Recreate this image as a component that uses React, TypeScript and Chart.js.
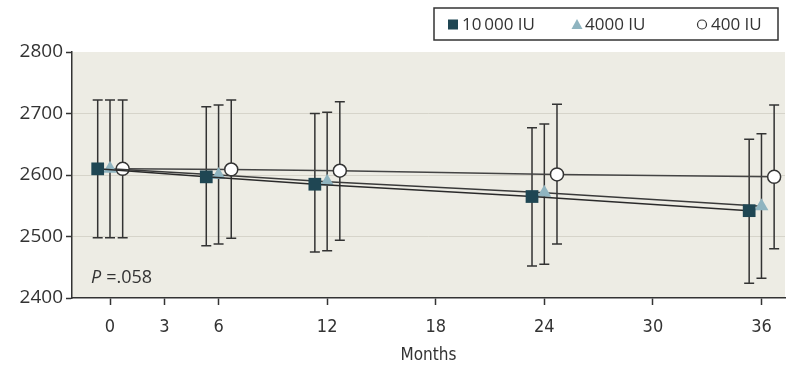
import React, { useEffect, useRef } from "react";
import { Chart, registerables } from "chart.js";

Chart.register(...registerables);

const months = [0, 6, 12, 24, 36];
const xTicks = [0, 3, 6, 12, 18, 24, 30, 36];
const seriesNames = ["10\u2009000 IU", "4000 IU", "400 IU"];

const highMean = [2610, 2597, 2585, 2565, 2542];
const highUpper = [2722, 2711, 2700, 2677, 2658];
const highLower = [2498, 2485, 2475, 2452, 2424];

const midMean = [2610, 2600, 2589, 2571, 2549];
const midUpper = [2722, 2714, 2702, 2683, 2667];
const midLower = [2498, 2488, 2477, 2455, 2432];

const lowMean = [2610, 2609, 2607, 2601, 2597];
const lowUpper = [2722, 2722, 2719, 2715, 2714];
const lowLower = [2498, 2497, 2494, 2488, 2480];

const offsets = [-0.68, 0, 0.7];
const pLabel = ".058";

const INK = "#333333";
const BG = "#edece4";
const COND = "'DejaVu Sans Condensed', 'DejaVu Sans'";

export default function App() {
  const ref = useRef<HTMLCanvasElement | null>(null);

  useEffect(() => {
    if (!ref.current) return;
    const means = [highMean, midMean, lowMean];
    const uppers = [highUpper, midUpper, lowUpper];
    const lowers = [highLower, midLower, lowLower];

    const mk = (i: number) =>
      months.map((m, j) => ({ x: m + offsets[i], y: means[i][j] }));

    const bgPlugin = {
      id: "bg",
      beforeDraw(chart: any) {
        const { ctx, chartArea: a } = chart;
        ctx.save();
        ctx.fillStyle = BG;
        ctx.fillRect(a.left, a.top, a.right - a.left, a.bottom - a.top);
        ctx.restore();
      },
    };

    const errPlugin = {
      id: "err",
      beforeDatasetsDraw(chart: any) {
        const { ctx } = chart;
        const xs = chart.scales.x;
        const ys = chart.scales.y;
        ctx.save();
        ctx.strokeStyle = INK;
        ctx.lineWidth = 1.5;
        for (let i = 0; i < 3; i++) {
          months.forEach((m, j) => {
            const px = xs.getPixelForValue(m + offsets[i]);
            const top = ys.getPixelForValue(uppers[i][j]);
            const bot = ys.getPixelForValue(lowers[i][j]);
            ctx.beginPath();
            ctx.moveTo(px, top);
            ctx.lineTo(px, bot);
            ctx.moveTo(px - 5, top);
            ctx.lineTo(px + 5, top);
            ctx.moveTo(px - 5, bot);
            ctx.lineTo(px + 5, bot);
            ctx.stroke();
          });
        }
        ctx.restore();
      },
    };

    const annoPlugin = {
      id: "anno",
      afterDraw(chart: any) {
        const { ctx, chartArea: a } = chart;
        ctx.save();
        // P value
        ctx.fillStyle = INK;
        ctx.textBaseline = "middle";
        ctx.font = "italic 18px 'Open Sans'";
        const px = a.left + 19;
        const py = 278;
        ctx.fillText("P", px, py);
        const pw = ctx.measureText("P").width + 5;
        ctx.font = "18px 'Open Sans'";
        ctx.fillText("=" + pLabel, px + pw, py);

        // legend box
        const lx = 434, ly = 8, lw = 344, lh = 32;
        ctx.fillStyle = "#ffffff";
        ctx.fillRect(lx, ly, lw, lh);
        ctx.strokeStyle = INK;
        ctx.lineWidth = 1.5;
        ctx.strokeRect(lx, ly, lw, lh);
        const cy = ly + lh / 2;
        ctx.font = "17px 'Open Sans'";
        ctx.textBaseline = "middle";
        ctx.fillStyle = INK;
        // square
        ctx.fillStyle = "#1f4653";
        ctx.fillRect(448, cy - 4.5, 10, 10);
        ctx.fillStyle = INK;
        ctx.fillText(seriesNames[0], 462, cy + 1);
        // triangle
        ctx.fillStyle = "#8fb4c0";
        ctx.beginPath();
        ctx.moveTo(577, cy - 5);
        ctx.lineTo(582.5, cy + 5);
        ctx.lineTo(571.5, cy + 5);
        ctx.closePath();
        ctx.fill();
        ctx.fillStyle = INK;
        ctx.fillText(seriesNames[1], 585, cy + 1);
        // circle
        ctx.beginPath();
        ctx.arc(702, cy + 0.5, 4.5, 0, Math.PI * 2);
        ctx.fillStyle = "#ffffff";
        ctx.fill();
        ctx.strokeStyle = INK;
        ctx.lineWidth = 1.2;
        ctx.stroke();
        ctx.fillStyle = INK;
        ctx.fillText(seriesNames[2], 711, cy + 1);
        ctx.restore();
      },
    };

    const chart = new Chart(ref.current, {
      type: "line",
      data: {
        datasets: [
          {
            label: seriesNames[2],
            data: mk(2),
            borderColor: "#444444",
            borderWidth: 1.5,
            pointStyle: "circle",
            pointRadius: 6.5,
            pointBackgroundColor: "#ffffff",
            pointBorderColor: INK,
            pointBorderWidth: 1.5,
            order: 3,
          },
          {
            label: seriesNames[1],
            data: mk(1),
            borderColor: "#3a3a3a",
            borderWidth: 1.5,
            pointStyle: "triangle",
            pointRadius: 8,
            pointBackgroundColor: "#8fb4c0",
            pointBorderColor: "#8fb4c0",
            pointBorderWidth: 0,
            order: 2,
          },
          {
            label: seriesNames[0],
            data: mk(0),
            borderColor: "#2a2a2a",
            borderWidth: 1.5,
            pointStyle: "rect",
            pointRadius: 9,
            pointBackgroundColor: "#1f4653",
            pointBorderColor: "#1f4653",
            pointBorderWidth: 0,
            order: 1,
          },
        ],
      },
      options: {
        animation: false,
        responsive: false,
        maintainAspectRatio: false,
        layout: { padding: { left: 0, right: 15, top: 52, bottom: 0 } },
        plugins: {
          legend: { display: false },
          tooltip: { enabled: false },
        },
        scales: {
          x: {
            type: "linear",
            min: -2.1,
            max: 37.3,
            afterBuildTicks(scale: any) {
              scale.ticks = xTicks.map((v) => ({ value: v }));
            },
            afterFit(scale: any) {
              scale.height = 72;
            },
            border: { color: INK, width: 1.5 },
            grid: {
              drawOnChartArea: false,
              drawTicks: true,
              tickLength: 7,
              tickColor: INK,
              tickWidth: 1.5,
            },
            ticks: {
              color: INK,
              padding: 12,
              font: { family: COND, size: 18 },
              callback: (v: any) => String(v),
            },
            title: {
              display: true,
              text: "Months",
              color: INK,
              padding: { top: 0 },
              font: { family: COND, size: 17 },
            },
          },
          y: {
            min: 2400,
            max: 2800,
            afterFit(scale: any) {
              scale.width = 72;
            },
            border: { color: INK, width: 1.5 },
            grid: {
              color: (c: any) =>
                c.tick && c.tick.value > 2400 && c.tick.value < 2800
                  ? "#d6d4ca"
                  : "rgba(0,0,0,0)",
              lineWidth: 1,
              tickColor: INK,
              tickLength: 6,
              tickWidth: 1.5,
            },
            ticks: {
              stepSize: 100,
              color: INK,
              padding: 3,
              font: { family: "'Open Sans'", size: 19 },
              callback: (v: any) => String(v),
            },
          },
        },
      },
      plugins: [bgPlugin, errPlugin, annoPlugin],
    });
    return () => chart.destroy();
  }, []);

  return (
    <div style={{ position: "fixed", left: 0, top: 0, width: 800, height: 370, background: "#fff" }}>
      <canvas ref={ref} width={800} height={370} style={{ width: 800, height: 370 }} />
    </div>
  );
}
